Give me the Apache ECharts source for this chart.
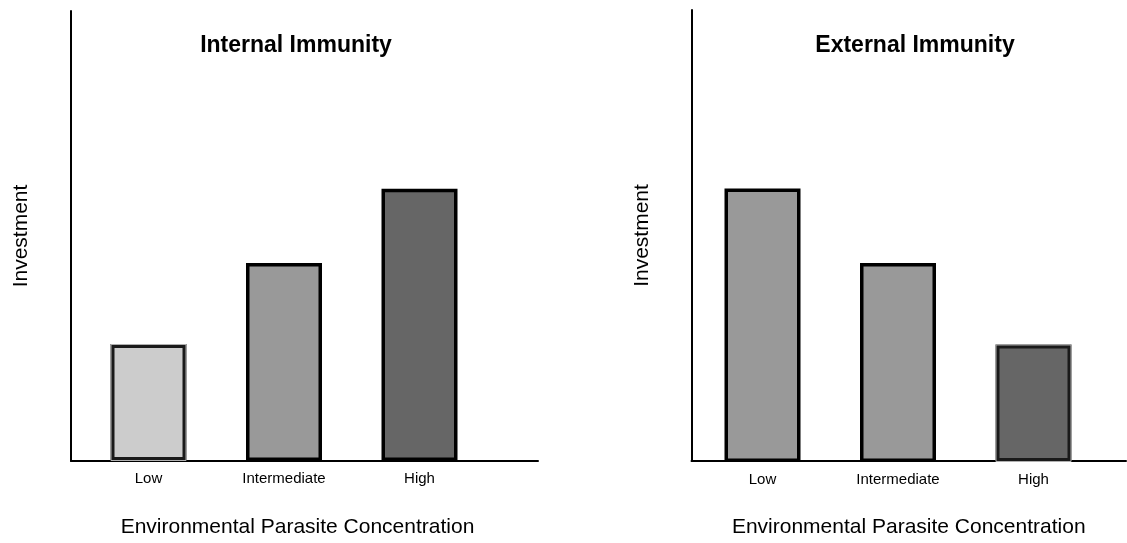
<!DOCTYPE html>
<html>
<head>
<meta charset="utf-8">
<script src="https://cdn.jsdelivr.net/npm/echarts@6/dist/echarts.min.js"></script>
<style>
html,body{margin:0;padding:0;background:#fff;}
#c{width:1127px;height:543px;}
</style>
</head>
<body>
<div id="c"></div>
<script>
const categories = ['Low', 'Intermediate', 'High'];
const internalValues = [26, 44, 60.5];
const externalValues = [60.5, 44, 26];
const internalColors = ['#cccccc', '#999999', '#666666'];
const externalColors = ['#999999', '#999999', '#666666'];
const internalDouble = [true, false, false];
const externalDouble = [false, false, true];
const panelTitles = ['Internal Immunity', 'External Immunity'];
const yName = 'Investment';
const xName = 'Environmental Parasite Concentration';
const yMax = 100;

const FONT = '"Liberation Sans", Arial, sans-serif';

const chart = echarts.init(document.getElementById('c'));

function barData(vals, colors, dbl) {
  return vals.map((v, i) => ({
    value: v,
    itemStyle: {
      color: colors[i],
      borderColor: dbl[i] ? '#1a1a1a' : '#000',
      borderWidth: dbl[i] ? 4 : 3.5
    }
  }));
}
function innerLine(vals, dbl) {
  return vals.map((v, i) => dbl[i] ? { value: v } : { value: v, itemStyle: { opacity: 0 } });
}

const option = {
  animation: false,
  backgroundColor: '#fff',
  title: [
    { text: panelTitles[0], left: 291, top: 29, textAlign: 'center',
      textStyle: { fontFamily: FONT, fontSize: 23, fontWeight: 'bold', color: '#000' } },
    { text: panelTitles[1], left: 910, top: 29, textAlign: 'center',
      textStyle: { fontFamily: FONT, fontSize: 23, fontWeight: 'bold', color: '#000' } }
  ],
  grid: [
    { left: 71, right: 589, top: 11, bottom: 82 },
    { left: 80.75, width: 406.5, top: 11, bottom: 82 },
    { left: 691.5, right: 1, top: 10, bottom: 81 },
    { left: 694.75, width: 406.5, top: 10, bottom: 81 }
  ],
  xAxis: [
    { gridIndex: 0, type: 'value', min: 0, max: 1,
      axisLine: { show: true, lineStyle: { color: '#000', width: 2 } },
      axisTick: { show: false }, axisLabel: { show: false }, splitLine: { show: false },
      name: xName, nameLocation: 'middle', nameGap: 56,
      nameTextStyle: { fontFamily: FONT, fontSize: 21, color: '#000', padding: [0, 14, 0, 0] } },
    { gridIndex: 1, type: 'category', data: categories,
      axisLine: { show: false }, axisTick: { show: false },
      axisLabel: { fontFamily: FONT, fontSize: 15, color: '#000', margin: 10 } },
    { gridIndex: 2, type: 'value', min: 0, max: 1,
      axisLine: { show: true, lineStyle: { color: '#000', width: 2 } },
      axisTick: { show: false }, axisLabel: { show: false }, splitLine: { show: false },
      name: xName, nameLocation: 'middle', nameGap: 56,
      nameTextStyle: { fontFamily: FONT, fontSize: 21, color: '#000' } },
    { gridIndex: 3, type: 'category', data: categories,
      axisLine: { show: false }, axisTick: { show: false },
      axisLabel: { fontFamily: FONT, fontSize: 15, color: '#000', margin: 10 } }
  ],
  yAxis: [
    { gridIndex: 0, type: 'value', min: 0, max: yMax,
      axisLine: { show: true, lineStyle: { color: '#000', width: 2 } },
      axisTick: { show: false }, axisLabel: { show: false }, splitLine: { show: false },
      name: yName, nameLocation: 'middle', nameGap: 39, nameRotate: 90,
      nameTextStyle: { fontFamily: FONT, fontSize: 21, color: '#000' } },
    { gridIndex: 1, type: 'value', min: 0, max: yMax, show: false },
    { gridIndex: 2, type: 'value', min: 0, max: yMax,
      axisLine: { show: true, lineStyle: { color: '#000', width: 2 } },
      axisTick: { show: false }, axisLabel: { show: false }, splitLine: { show: false },
      name: yName, nameLocation: 'middle', nameGap: 39, nameRotate: 90,
      nameTextStyle: { fontFamily: FONT, fontSize: 21, color: '#000' } },
    { gridIndex: 3, type: 'value', min: 0, max: yMax, show: false }
  ],
  series: [
    { type: 'bar', xAxisIndex: 1, yAxisIndex: 1, barWidth: 76,
      data: barData(internalValues, internalColors, internalDouble) },
    { type: 'bar', xAxisIndex: 1, yAxisIndex: 1, barWidth: 76, barGap: '-100%', silent: true,
      itemStyle: { color: 'transparent', borderColor: '#b0b0b0', borderWidth: 1 },
      data: innerLine(internalValues, internalDouble) },
    { type: 'bar', xAxisIndex: 3, yAxisIndex: 3, barWidth: 76,
      data: barData(externalValues, externalColors, externalDouble) },
    { type: 'bar', xAxisIndex: 3, yAxisIndex: 3, barWidth: 76, barGap: '-100%', silent: true,
      itemStyle: { color: 'transparent', borderColor: '#b0b0b0', borderWidth: 1 },
      data: innerLine(externalValues, externalDouble) }
  ]
};
chart.setOption(option);
</script>
</body>
</html>
